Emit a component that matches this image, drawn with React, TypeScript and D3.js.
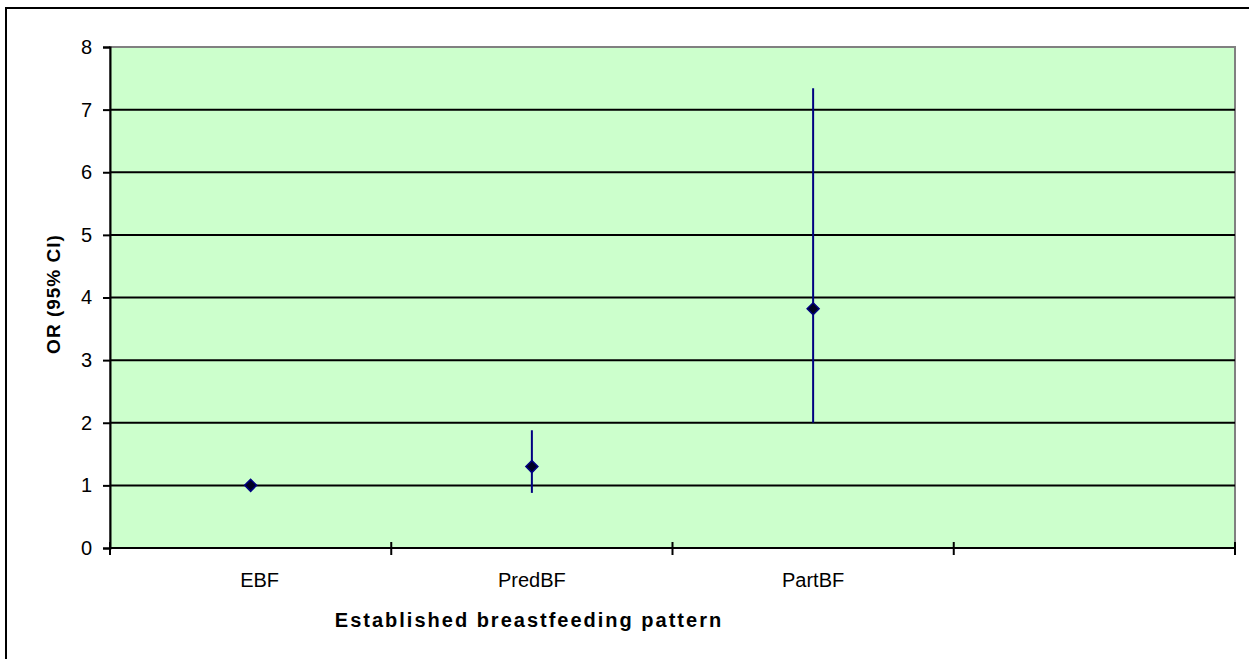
import React, { useEffect, useRef } from 'react';
import * as d3 from 'd3';

// chart data
const categories = ['EBF', 'PredBF', 'PartBF', ''];
const oddsRatio = [1.0, 1.3, 3.82];
const ciLower = [1.0, 0.88, 2.0];
const ciUpper = [1.0, 1.88, 7.34];
const yTicks = [0, 1, 2, 3, 4, 5, 6, 7, 8];

const W = 1249;
const H = 659;

const App = () => {
  const ref = useRef<SVGSVGElement | null>(null);

  useEffect(() => {
    if (!ref.current) return;
    const svg = d3.select(ref.current);
    svg.selectAll('*').remove();

    const margin = { top: 47, right: 14, bottom: 111, left: 110 };
    const width = W - margin.left - margin.right;
    const height = H - margin.top - margin.bottom;
    const font = 'Liberation Sans, Arial, sans-serif';

    // outer chart border (runs off the right and bottom edges)
    svg.append('rect')
      .attr('x', 6)
      .attr('y', 8)
      .attr('width', W + 20)
      .attr('height', H + 20)
      .attr('fill', '#fff')
      .attr('stroke', '#000')
      .attr('stroke-width', 2);

    const g = svg.append('g')
      .attr('transform', `translate(${margin.left},${margin.top})`);

    const x = d3.scaleBand()
      .domain(categories.map((c, i) => `${i}`))
      .range([0, width]);

    const y = d3.scaleLinear()
      .domain([0, 8])
      .range([height, 0]);

    // plot area
    g.append('rect')
      .attr('width', width)
      .attr('height', height)
      .attr('fill', '#ccffcc')
      .attr('stroke', '#808080')
      .attr('stroke-width', 2);

    // grid lines
    g.append('g')
      .selectAll('line')
      .data(yTicks.filter(t => t > 0 && t < 8))
      .enter()
      .append('line')
      .attr('x1', 0)
      .attr('x2', width)
      .attr('y1', d => y(d))
      .attr('y2', d => y(d))
      .attr('stroke', '#000')
      .attr('stroke-width', 2);

    // y axis
    const yAxis = g.append('g')
      .call(d3.axisLeft(y).tickValues(yTicks).tickSize(7).tickPadding(11).tickFormat(d3.format('d')));
    yAxis.select('.domain').attr('stroke', '#000').attr('stroke-width', 2);
    yAxis.selectAll('line').attr('stroke', '#000').attr('stroke-width', 2);
    yAxis.selectAll('text')
      .attr('fill', '#000')
      .style('font-family', font)
      .style('font-size', '20px');

    // x axis: ticks at category boundaries, crossing the axis line
    const bounds = d3.range(categories.length + 1).map(i => i * x.bandwidth());
    const xAxis = g.append('g').attr('transform', `translate(0,${height})`);
    xAxis.append('line')
      .attr('x1', 0)
      .attr('x2', width)
      .attr('stroke', '#000')
      .attr('stroke-width', 2);
    xAxis.selectAll('.xtick')
      .data(bounds)
      .enter()
      .append('line')
      .attr('class', 'xtick')
      .attr('x1', d => d)
      .attr('x2', d => d)
      .attr('y1', -6)
      .attr('y2', 7)
      .attr('stroke', '#000')
      .attr('stroke-width', 2);
    xAxis.selectAll('.xlabel')
      .data(categories)
      .enter()
      .append('text')
      .attr('class', 'xlabel')
      .attr('x', (d, i) => (x(`${i}`) as number) + x.bandwidth() / 2 + (i === 0 ? 9 : 0))
      .attr('y', 39)
      .attr('text-anchor', 'middle')
      .style('font-family', font)
      .style('font-size', '20px')
      .text(d => d);

    // confidence interval whiskers
    const cx = (i: number) => (x(`${i}`) as number) + x.bandwidth() / 2;
    g.selectAll('.ci')
      .data(oddsRatio)
      .enter()
      .append('line')
      .attr('class', 'ci')
      .attr('x1', (d, i) => cx(i))
      .attr('x2', (d, i) => cx(i))
      .attr('y1', (d, i) => y(ciLower[i]))
      .attr('y2', (d, i) => y(ciUpper[i]))
      .attr('stroke', '#000080')
      .attr('stroke-width', 2);

    // point estimates (diamonds)
    const diamond = d3.symbol().type(d3.symbolSquare).size(72);
    g.selectAll('.pt')
      .data(oddsRatio)
      .enter()
      .append('path')
      .attr('class', 'pt')
      .attr('d', diamond as any)
      .attr('transform', (d, i) => `translate(${cx(i)},${y(d)}) rotate(45)`)
      .attr('fill', '#000022')
      .attr('stroke', '#000080')
      .attr('stroke-width', 1.5);

    // axis titles
    svg.append('text')
      .attr('transform', `translate(60,294) rotate(-90)`)
      .attr('text-anchor', 'middle')
      .style('font-family', font)
      .style('font-size', '19px')
      .style('font-weight', 'bold')
      .style('letter-spacing', '1px')
      .text('OR (95% CI)');

    svg.append('text')
      .attr('x', 529)
      .attr('y', 627)
      .attr('text-anchor', 'middle')
      .style('font-family', font)
      .style('font-size', '20px')
      .style('font-weight', 'bold')
      .style('letter-spacing', '2px')
      .text('Established breastfeeding pattern');
  }, []);

  return (
    <svg
      ref={ref}
      width={W}
      height={H}
      style={{ position: 'absolute', left: 0, top: 0, display: 'block' }}
    />
  );
};

export default App;
